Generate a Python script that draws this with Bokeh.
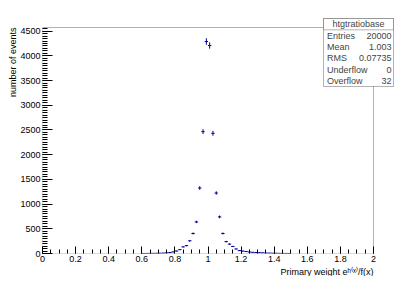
import math
from bokeh.plotting import figure
from bokeh.models import (BoxAnnotation, Label, FixedTicker, CustomJSTickFormatter,
                          ColumnDataSource, Range1d, Title)
from bokeh.embed import file_html
from bokeh.resources import INLINE

# ---- data ----
bin_centers = [0.61, 0.63, 0.65, 0.67, 0.69, 0.71, 0.73, 0.75, 0.77, 0.79,
               0.81, 0.83, 0.85, 0.87, 0.89, 0.91, 0.93, 0.95, 0.97, 0.99,
               1.01, 1.03, 1.05, 1.07, 1.09, 1.11, 1.13, 1.15, 1.17, 1.19,
               1.21, 1.23, 1.25, 1.27, 1.29, 1.31, 1.33, 1.35, 1.37, 1.39,
               1.41, 1.43, 1.45, 1.47, 1.49]
counts = [1, 1, 2, 3, 4, 6, 9, 14, 20, 32,
          50, 78, 134, 159, 257, 405, 639, 1325, 2466, 4290,
          4209, 2432, 1224, 741, 405, 240, 190, 142, 92, 58,
          49, 41, 30, 25, 20, 16, 13, 10, 8, 6,
          5, 3, 2, 1, 1]
bin_width = 0.02
x_min, x_max = 0.0, 2.0

x_ticks = [0, 0.2, 0.4, 0.6, 0.8, 1.0, 1.2, 1.4, 1.6, 1.8, 2.0]
x_minor_step = 0.05
y_ticks = [0, 500, 1000, 1500, 2000, 2500, 3000, 3500, 4000, 4500]
y_minor_step = 50

hist_name = "htgtratiobase"
stat_names = ["Entries", "Mean", "RMS", "Underflow", "Overflow"]
stat_values = ["20000", "1.003", "0.07735", "0", "32"]

x_title = "Primary weight e\u02b0\u207d\u02e3\u207e/f(x)"
y_title = "number of events"

# ---- layout (pixels) ----
FONT = "Liberation Sans"
DL, DR, DT, DB = 42, 373, 27, 253      # histogram frame
W = 399
FT = 10                                  # top of bokeh frame (room for stats box)
FW = W - DL
FH = DB - FT
ymax = (max(c + math.sqrt(c) for c in counts)) * 1.05
x_end = x_min + (x_max - x_min) * FW / (DR - DL)
y_end = ymax * FH / (DB - DT)

p = figure(frame_width=FW, frame_height=FH, output_backend="svg", toolbar_location=None,
           x_range=Range1d(x_min, x_end), y_range=Range1d(0, y_end),
           min_border_left=DL, min_border_right=0, min_border_top=FT,
           min_border_bottom=20, background_fill_color="white",
           border_fill_color="white")
p.outline_line_color = None
p.xgrid.visible = False
p.ygrid.visible = False

color = "#000099"
src = ColumnDataSource(dict(
    x=bin_centers,
    y=counts,
    x0=[c - bin_width / 2 for c in bin_centers],
    x1=[c + bin_width / 2 for c in bin_centers],
    y0=[n - math.sqrt(n) for n in counts],
    y1=[n + math.sqrt(n) for n in counts],
))
p.segment(x0="x0", y0="y", x1="x1", y1="y", source=src, line_color=color, line_width=1)
p.segment(x0="x", y0="y0", x1="x", y1="y1", source=src, line_color=color, line_width=1)

# histogram frame
p.add_layout(BoxAnnotation(left=x_min, right=x_max, bottom=0, top=ymax,
                           fill_alpha=0, line_color="black", line_width=1))

# axes
xa = p.xaxis[0]
n_xm = int(round((x_max - x_min) / x_minor_step))
xa.ticker = FixedTicker(ticks=x_ticks,
                        minor_ticks=[x_min + i * x_minor_step for i in range(n_xm + 1)])
xa.formatter = CustomJSTickFormatter(code="var s = tick.toFixed(1); return s.replace(/\\.0$/, '');")
ya = p.yaxis[0]
ya.ticker = FixedTicker(ticks=y_ticks,
                        minor_ticks=list(range(0, int(ymax), y_minor_step)))

for ax, tin, mtin, stand in ((xa, 7, 4, 2), (ya, 10, 5, 2)):
    ax.axis_line_color = None
    ax.major_tick_line_color = "black"
    ax.minor_tick_line_color = "black"
    ax.major_tick_in = tin
    ax.major_tick_out = 0
    ax.minor_tick_in = mtin
    ax.minor_tick_out = 0
    ax.major_label_text_font = FONT
    ax.major_label_text_font_size = "9px"
    ax.major_label_text_color = "black"
    ax.major_label_standoff = stand
    ax.axis_label = None

# axis titles
p.add_layout(Title(text=x_title, align="right", offset=(W - DR), standoff=0,
                   text_font=FONT, text_font_size="9px", text_font_style="normal",
                   text_color="black"), "below")
p.add_layout(Title(text=y_title, align="right", offset=(DT - FT), standoff=0,
                   text_font=FONT, text_font_size="9px", text_font_style="normal",
                   text_color="black"), "left")

def sx(fx):
    return fx - DL

def sy(fy):
    return DB - fy

# stats box
bl, br, bt, bb = 323, 393, 18, 86
rh = (bb - bt) / 6.0
p.add_layout(BoxAnnotation(left=sx(bl), right=sx(br), top=sy(bt), bottom=sy(bb),
                           left_units="screen", right_units="screen",
                           top_units="screen", bottom_units="screen",
                           fill_color="white", fill_alpha=1.0,
                           line_color="black", line_width=1))
p.add_layout(BoxAnnotation(left=sx(bl), right=sx(br), top=sy(bt), bottom=sy(bt + rh),
                           left_units="screen", right_units="screen",
                           top_units="screen", bottom_units="screen",
                           fill_color="white", fill_alpha=1.0,
                           line_color="black", line_width=1))
p.add_layout(Label(x=sx((bl + br) / 2), y=sy(bt + rh / 2), x_units="screen", y_units="screen",
                   text=hist_name, text_font=FONT, text_font_size="9px",
                   text_align="center", text_baseline="middle"))
for i, (nm, vl) in enumerate(zip(stat_names, stat_values)):
    cy = bt + rh * (i + 1) + rh / 2
    p.add_layout(Label(x=sx(bl + 3.5), y=sy(cy), x_units="screen", y_units="screen",
                       text=nm, text_font=FONT, text_font_size="9px",
                       text_align="left", text_baseline="middle"))
    p.add_layout(Label(x=sx(br - 2), y=sy(cy), x_units="screen", y_units="screen",
                       text=vl, text_font=FONT, text_font_size="9px",
                       text_align="right", text_baseline="middle"))

open("out.html", "w").write(file_html(p, INLINE))
